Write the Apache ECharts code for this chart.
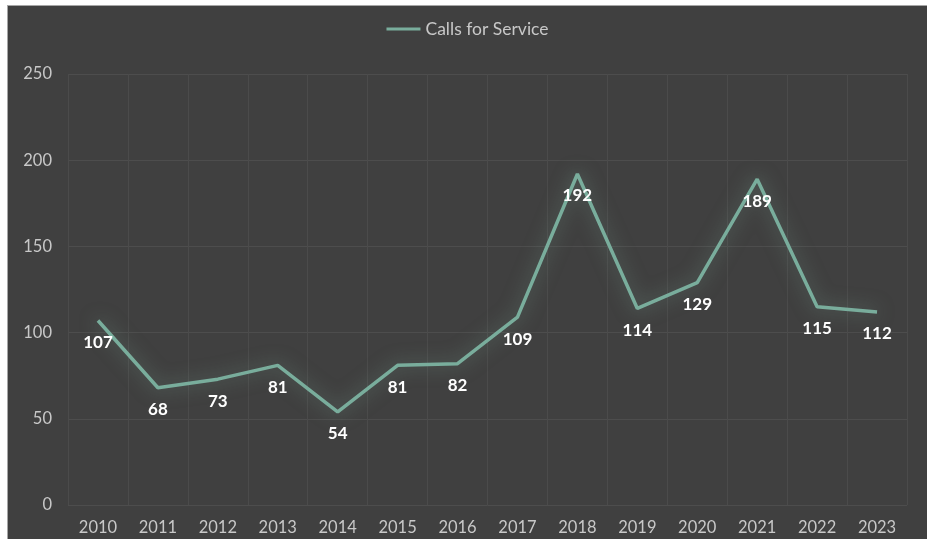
<!DOCTYPE html>
<html>
<head>
<meta charset="utf-8">
<script src="https://cdn.jsdelivr.net/npm/echarts@6/dist/echarts.min.js"></script>
<style>
  html, body { margin: 0; padding: 0; background: #ffffff; width: 927px; height: 539px; overflow: hidden; }
  #frame { position: absolute; left: 7px; top: 5px; width: 920px; height: 534px;
           background: #404040; border-top: 1px solid #a6a6a6; border-left: 1px solid #a6a6a6; box-sizing: border-box; }
  #chart { width: 100%; height: 100%; }
</style>
</head>
<body>
<div id="frame"><div id="chart"></div></div>
<script>
// Yearly calls for service
const years = ['2010','2011','2012','2013','2014','2015','2016','2017','2018','2019','2020','2021','2022','2023'];
const calls = [107, 68, 73, 81, 54, 81, 82, 109, 192, 114, 129, 189, 115, 112];
const seriesName = 'Calls for Service';

const LINE_COLOR = '#79ad9c';
const FONT = 'Lato, "Noto Sans", sans-serif';
const chart = echarts.init(document.getElementById('chart'), null, { renderer: 'canvas' });
chart.setOption({
  backgroundColor: 'transparent',
  animation: false,
  legend: {
    top: 9,
    left: 'center',
    itemWidth: 34,
    itemHeight: 10,
    itemGap: 4,
    icon: 'path://M0,4L34,4L34,7L0,7Z',
    itemStyle: { color: LINE_COLOR, borderWidth: 0 },
    textStyle: { color: '#c8c8c8', fontSize: 17.5, fontFamily: FONT },
    data: [seriesName]
  },
  grid: { left: 60, right: 20, top: 68, bottom: 34 },
  xAxis: {
    type: 'category',
    data: years,
    boundaryGap: true,
    axisLine: { show: false },
    axisTick: { show: false },
    axisLabel: { color: '#c8c8c8', fontSize: 16.5, fontFamily: FONT, margin: 14 },
    splitLine: { show: true, lineStyle: { color: '#4b4b4b', width: 1 } }
  },
  yAxis: {
    type: 'value',
    min: 0, max: 250, interval: 50,
    axisLine: { show: false },
    axisTick: { show: false },
    axisLabel: { color: '#c8c8c8', fontSize: 16.5, fontFamily: FONT, margin: 16 },
    splitLine: { show: true, lineStyle: { color: '#4d4d4d', width: 1 } }
  },
  series: [{
    name: seriesName,
    type: 'line',
    data: calls,
    symbol: 'circle',
    symbolSize: 1,
    showSymbol: true,
    lineStyle: {
      color: LINE_COLOR, width: 3.5,
      shadowColor: 'rgba(140,190,170,0.5)', shadowBlur: 18
    },
    itemStyle: { color: 'rgba(0,0,0,0)', borderWidth: 0 },
    label: {
      show: true,
      position: 'bottom',
      distance: 13,
      color: '#ffffff',
      fontSize: 17,
      fontWeight: 'bold',
      fontFamily: FONT
    }
  }]
});
</script>
</body>
</html>
